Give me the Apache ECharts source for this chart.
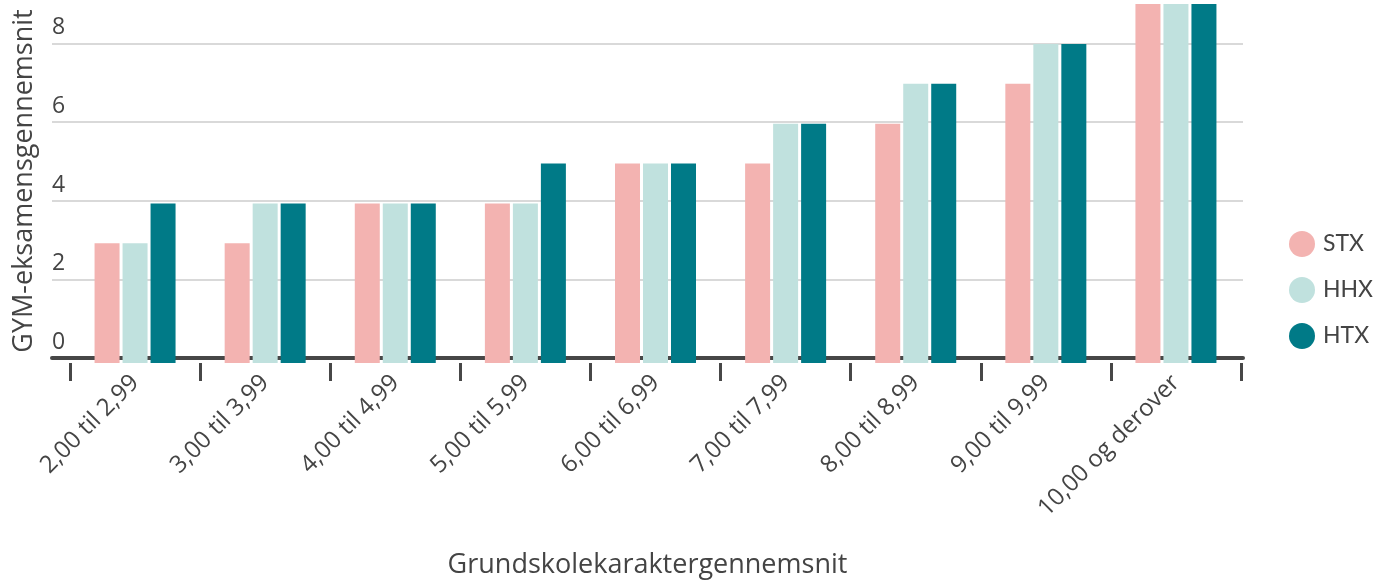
<!DOCTYPE html>
<html>
<head>
<meta charset="UTF-8">
<title></title>
<script src="https://cdn.jsdelivr.net/npm/echarts@6/dist/echarts.min.js"></script>
<style>
  html, body { margin: 0; padding: 0; background: #fff; }
  #main { width: 1397px; height: 584px; }
</style>
</head>
<body>
<div id="main"></div>
<script>
var categories = ['2,00 til 2,99', '3,00 til 3,99', '4,00 til 4,99', '5,00 til 5,99', '6,00 til 6,99',
                  '7,00 til 7,99', '8,00 til 8,99', '9,00 til 9,99', '10,00 og derover'];
var stx = [3, 3, 4, 4, 5, 5, 6, 7, 9];
var hhx = [3, 4, 4, 4, 5, 6, 7, 8, 9];
var htx = [4, 4, 4, 5, 5, 6, 7, 8, 9];

var font = '"Open Sans", sans-serif';
var textColor = '#444';

var chart = echarts.init(document.getElementById('main'));

function barSeries(name, data, color) {
    return {
        name: name,
        type: 'bar',
        xAxisIndex: 1,
        yAxisIndex: 1,
        barWidth: 25,
        barGap: '12%',
        itemStyle: { color: color },
        data: data
    };
}

chart.setOption({
    animation: false,
    textStyle: { fontFamily: font },
    legend: {
        orient: 'vertical',
        left: 1284,
        top: 226,
        icon: 'circle',
        itemWidth: 26,
        itemHeight: 26,
        itemGap: 20,
        textStyle: { fontFamily: 'Lato, sans-serif', fontSize: 23, color: textColor, padding: [0, 0, 0, 3] },
        data: ['STX', 'HHX', 'HTX']
    },
    grid: [
        { left: 52, right: 154, top: 4, bottom: 221 },
        { left: 70, right: 156, top: 4, bottom: 221 }
    ],
    xAxis: [
        {
            type: 'value', gridIndex: 0, min: 0, max: 1, offset: 2,
            name: 'Grundskolekaraktergennemsnit',
            nameLocation: 'middle',
            nameGap: 192,
            nameTextStyle: { fontSize: 27, color: textColor, fontFamily: font },
            axisLine: { show: true, lineStyle: { color: '#474747', width: 4 } },
            axisTick: { show: false },
            axisLabel: { show: false },
            splitLine: { show: false }
        },
        {
            type: 'category', gridIndex: 1, data: categories, offset: 2,
            axisLine: { show: false },
            axisTick: { show: true, interval: 0, length: 18, lineStyle: { color: '#474747', width: 3 } },
            axisLabel: { interval: 0, rotate: 45, margin: 14, fontSize: 24, color: textColor, fontFamily: font }
        }
    ],
    yAxis: [
        {
            type: 'value', gridIndex: 0, min: 0, max: 9, interval: 2,
            name: 'GYM-eksamensgennemsnit',
            nameLocation: 'middle',
            nameGap: 14,
            nameTextStyle: { fontSize: 27, color: textColor, fontFamily: font },
            axisLine: { show: false },
            axisTick: { show: false },
            axisLabel: {
                inside: true, margin: 0, fontSize: 23, color: textColor, fontFamily: font,
                verticalAlign: 'bottom', padding: [0, 0, 4, 0],
                showMaxLabel: false
            },
            splitLine: { show: true, showMinLine: false, showMaxLine: false, lineStyle: { color: '#d9d9d9', width: 2 } }
        },
        {
            type: 'value', gridIndex: 1, min: 0, max: 9, show: false, splitLine: { show: false }
        }
    ],
    series: [
        barSeries('STX', stx, '#f3b3b1'),
        barSeries('HHX', hhx, '#c0e1de'),
        barSeries('HTX', htx, '#007a87')
    ]
});
</script>
</body>
</html>
